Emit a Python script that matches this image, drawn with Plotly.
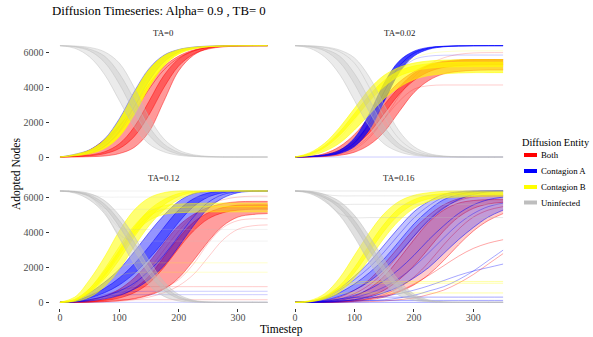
import plotly.graph_objects as go

# ---------------- data ----------------
T = [0, 25, 50, 75, 100, 125, 150, 175, 200, 225, 250, 275, 300, 325, 350]
X_TICKS = [0, 100, 200, 300]
Y_TICKS = [0, 2000, 4000, 6000]
ENTITIES = ["Both", "Contagion A", "Contagion B", "Uninfected"]
PANEL_TITLES = ["TA=0", "TA=0.02", "TA=0.12", "TA=0.16"]

# ---- TA = 0 ----
TA0_BOTH = [
    [0, 100, 400, 1000, 1800, 2900, 4200, 5200, 5800, 6150, 6320, 6380, 6400, 6400, 6400],
    [0, 0, 20, 60, 200, 550, 1450, 3200, 4950, 5850, 6250, 6370, 6400, 6400, 6400],
    [0, 40, 115, 300, 760, 1720, 3200, 4680, 5640, 6100, 6285, 6360, 6385, 6400, 6400],
    [0, 26, 70, 190, 490, 1170, 2420, 3980, 5230, 5910, 6210, 6330, 6375, 6390, 6400],
    [0, 50, 200, 600, 1400, 2600, 3900, 5000, 5700, 6100, 6300, 6380, 6400, 6400, 6400],
]
TA0_BOTH_X = []
TA0_A = [
    [0, 160, 420, 1030, 2200, 3750, 5080, 5850, 6180, 6320, 6375, 6392, 6400, 6400, 6400],
    [0, 90, 250, 620, 1450, 2850, 4350, 5450, 6020, 6250, 6345, 6378, 6394, 6400, 6400],
]
TA0_A_X = []
TA0_B = [
    [0, 150, 400, 990, 2130, 3680, 5030, 5820, 6170, 6310, 6370, 6390, 6400, 6400, 6400],
    [0, 70, 190, 490, 1170, 2420, 3980, 5230, 5910, 6210, 6330, 6370, 6390, 6400, 6400],
    [0, 100, 280, 700, 1600, 3040, 4550, 5570, 6070, 6270, 6350, 6380, 6395, 6400, 6400],
]
TA0_B_X = []
TA0_U = [
    [6400, 6250, 5750, 4750, 3250, 1750, 750, 300, 100, 30, 5, 0, 0, 0, 0],
    [6400, 6380, 6300, 6050, 5400, 4000, 2300, 1050, 400, 130, 40, 5, 0, 0, 0],
    [6400, 6330, 6100, 5450, 4200, 2600, 1250, 500, 170, 50, 10, 0, 0, 0, 0],
    [6400, 6360, 6200, 5800, 4800, 3300, 1750, 750, 270, 80, 20, 0, 0, 0, 0],
]
TA0_U_X = []

# ---- TA = 0.02 ----
TA002_BOTH = [
    [0, 40, 200, 600, 1300, 2300, 3400, 4300, 4900, 5300, 5500, 5580, 5600, 5600, 5600],
    [0, 5, 30, 100, 280, 700, 1450, 2600, 3700, 4400, 4780, 4920, 4980, 5000, 5000],
    [0, 15, 80, 250, 650, 1400, 2500, 3600, 4400, 4900, 5150, 5250, 5290, 5300, 5300],
    [0, 20, 120, 400, 950, 1850, 3000, 4000, 4800, 5250, 5450, 5550, 5590, 5600, 5600],
]
TA002_BOTH_X = [
    [0, 10, 60, 200, 550, 1200, 2200, 3200, 3900, 4100, 4140, 4140, 4140, 4140, 4140],
    [0, 10, 50, 170, 450, 1100, 2200, 3500, 4600, 5300, 5700, 5900, 5980, 6000, 6000],
]
TA002_A = [
    [0, 45, 130, 390, 1090, 2490, 4250, 5510, 6080, 6300, 6365, 6390, 6400, 6400, 6400],
    [0, 22, 67, 205, 600, 1560, 3200, 4840, 5800, 6195, 6333, 6380, 6395, 6400, 6400],
    [0, 32, 95, 285, 820, 2000, 3750, 5200, 5970, 6260, 6355, 6385, 6398, 6400, 6400],
]
TA002_A_X = [
    [0, 30, 90, 270, 780, 1900, 3500, 4900, 5600, 5800, 5850, 5860, 5860, 5860, 5860],
    [0, 0, 0, 0, 0, 0, 0, 0, 0, 0, 0, 0, 0, 0, 0],
]
TA002_B = [
    [0, 250, 800, 1700, 2800, 3900, 4700, 5150, 5400, 5520, 5570, 5590, 5600, 5600, 5600],
    [0, 80, 330, 800, 1550, 2450, 3350, 4000, 4450, 4680, 4780, 4830, 4850, 4850, 4850],
    [0, 150, 550, 1250, 2200, 3200, 4050, 4650, 4950, 5100, 5170, 5190, 5200, 5200, 5200],
    [0, 200, 650, 1450, 2500, 3550, 4400, 4950, 5230, 5360, 5420, 5440, 5450, 5450, 5450],
]
TA002_B_X = [
    [0, 120, 450, 1100, 2100, 3300, 4400, 5200, 5700, 5950, 6050, 6090, 6100, 6100, 6100],
]
TA002_U = [
    [6400, 6250, 5750, 4750, 3250, 1750, 750, 300, 100, 30, 5, 0, 0, 0, 0],
    [6400, 6390, 6330, 6150, 5700, 4600, 3000, 1500, 600, 200, 60, 15, 0, 0, 0],
    [6400, 6330, 6100, 5450, 4200, 2600, 1250, 500, 170, 50, 10, 0, 0, 0, 0],
    [6400, 6360, 6200, 5800, 4800, 3300, 1750, 750, 270, 80, 20, 0, 0, 0, 0],
    [6400, 6380, 6300, 6050, 5400, 4000, 2300, 1050, 400, 130, 40, 5, 0, 0, 0],
]
TA002_U_X = []

# ---- TA = 0.12 ----
TA012_BOTH = [
    [0, 20, 120, 350, 750, 1400, 2300, 3400, 4400, 5050, 5450, 5680, 5780, 5800, 5800],
    [0, 0, 10, 40, 100, 200, 400, 750, 1400, 2400, 3500, 4400, 4900, 5050, 5100],
    [0, 5, 30, 100, 250, 550, 1100, 2000, 3100, 4100, 4800, 5150, 5300, 5350, 5350],
    [0, 8, 45, 150, 380, 800, 1500, 2600, 3700, 4600, 5150, 5450, 5580, 5600, 5600],
]
TA012_BOTH_X = [
    [0, 0, 10, 40, 100, 220, 450, 800, 1300, 2200, 3400, 4300, 4700, 4800, 4800],
    [0, 0, 5, 20, 60, 150, 300, 550, 950, 1600, 2600, 3600, 4200, 4400, 4450],
    [0, 10, 50, 170, 450, 1000, 1900, 3000, 4100, 5000, 5600, 5900, 6050, 6100, 6100],
    [0, 20, 80, 140, 150, 150, 150, 150, 150, 150, 150, 150, 150, 150, 150],
    [0, 30, 150, 400, 700, 850, 900, 900, 900, 900, 900, 900, 900, 900, 900],
]
TA012_A = [
    [0, 100, 550, 1150, 1900, 2900, 4000, 5000, 5800, 6250, 6380, 6400, 6400, 6400, 6400],
    [0, 20, 80, 200, 400, 750, 1300, 2100, 3200, 4400, 5400, 6000, 6300, 6380, 6400],
    [0, 70, 380, 800, 1400, 2200, 3200, 4300, 5300, 5950, 6280, 6380, 6400, 6400, 6400],
    [0, 50, 250, 550, 1000, 1650, 2500, 3500, 4600, 5500, 6050, 6300, 6380, 6400, 6400],
    [0, 35, 150, 350, 650, 1100, 1800, 2700, 3800, 4900, 5750, 6200, 6350, 6400, 6400],
]
TA012_A_X = [
    [0, 40, 200, 450, 580, 620, 635, 635, 635, 635, 635, 635, 635, 635, 635],
    [0, 30, 150, 330, 420, 440, 440, 440, 440, 440, 440, 440, 440, 440, 440],
    [0, 0, 0, 0, 0, 0, 0, 0, 0, 0, 0, 0, 0, 0, 0],
]
TA012_B = [
    [0, 300, 1300, 2600, 4100, 5300, 6000, 6300, 6400, 6400, 6400, 6400, 6400, 6400, 6400],
    [0, 50, 300, 900, 1900, 3200, 4400, 5300, 5900, 6250, 6380, 6400, 6400, 6400, 6400],
    [0, 180, 800, 1800, 3000, 4300, 5300, 5900, 6250, 6380, 6400, 6400, 6400, 6400, 6400],
    [0, 110, 550, 1350, 2450, 3750, 4850, 5600, 6080, 6320, 6390, 6400, 6400, 6400, 6400],
]
TA012_B_PLATEAU = [
    [0, 150, 800, 1900, 3200, 4400, 5200, 5550, 5650, 5680, 5700, 5700, 5700, 5700, 5700],
    [0, 100, 600, 1500, 2700, 3900, 4700, 5050, 5150, 5180, 5200, 5200, 5200, 5200, 5200],
    [0, 120, 700, 1600, 2900, 4100, 4950, 5350, 5450, 5480, 5500, 5500, 5500, 5500, 5500],
]
TA012_B_X = [
    [0, 100, 600, 1400, 2000, 2250, 2270, 2270, 2270, 2270, 2270, 2270, 2270, 2270, 2270],
    [0, 80, 500, 1100, 1550, 1700, 1730, 1730, 1730, 1730, 1730, 1730, 1730, 1730, 1730],
]
TA012_U = [
    [6400, 6280, 5880, 5100, 3700, 2200, 1000, 350, 80, 10, 0, 0, 0, 0, 0],
    [6400, 6380, 6250, 5850, 5000, 3800, 2400, 1200, 450, 120, 20, 0, 0, 0, 0],
    [6400, 6340, 6080, 5450, 4350, 3000, 1650, 700, 220, 50, 5, 0, 0, 0, 0],
    [6400, 6360, 6170, 5650, 4700, 3450, 2000, 950, 330, 80, 10, 0, 0, 0, 0],
]
TA012_U_X = [
    [6400, 6400, 6400, 6400, 6400, 6400, 6400, 6400, 6400, 6400, 6400, 6400, 6400, 6400, 6400],
    [6400, 6380, 6200, 6050, 6050, 6050, 6050, 6050, 6050, 6050, 6050, 6050, 6050, 6050, 6050],
    [6400, 6330, 6100, 5400, 5350, 5350, 5350, 5350, 5350, 5350, 5350, 5350, 5350, 5350, 5350],
    [6400, 6330, 6100, 5300, 4300, 4190, 4190, 4190, 4190, 4190, 4190, 4190, 4190, 4190, 4190],
    [6400, 6330, 6050, 5200, 3900, 3520, 3520, 3520, 3520, 3520, 3520, 3520, 3520, 3520, 3520],
]

# ---- TA = 0.16 ----
TA016_BOTH = [
    [0, 20, 100, 300, 700, 1300, 2200, 3200, 4200, 5000, 5600, 5950, 6100, 6150, 6150],
    [0, 0, 0, 20, 60, 150, 300, 600, 1000, 1600, 2400, 3300, 4100, 4700, 5100],
    [0, 0, 30, 120, 350, 800, 1500, 2500, 3600, 4600, 5300, 5700, 5850, 5900, 5900],
    [0, 0, 10, 50, 150, 350, 700, 1300, 2100, 3100, 4100, 4900, 5400, 5650, 5750],
]
TA016_BOTH_X = [
    [0, 0, 0, 0, 20, 40, 80, 150, 250, 450, 700, 1100, 1600, 2200, 2800],
    [0, 0, 10, 40, 100, 200, 380, 650, 1050, 1550, 2100, 2650, 3100, 3400, 3600],
    [0, 0, 5, 30, 90, 220, 450, 850, 1450, 2300, 3300, 4200, 4900, 5300, 5500],
    [0, 10, 60, 200, 500, 1000, 1750, 2750, 3800, 4750, 5450, 5850, 6050, 6100, 6100],
]
TA016_A = [
    [0, 50, 300, 800, 1500, 2300, 3300, 4300, 5200, 5800, 6200, 6350, 6400, 6400, 6400],
    [0, 0, 20, 60, 150, 300, 550, 900, 1400, 2000, 2800, 3600, 4300, 4900, 5300],
    [0, 30, 200, 550, 1050, 1700, 2500, 3500, 4500, 5300, 5900, 6200, 6350, 6400, 6400],
    [0, 20, 120, 350, 700, 1200, 1900, 2800, 3800, 4700, 5400, 5900, 6200, 6350, 6400],
    [0, 10, 60, 180, 400, 750, 1250, 1900, 2700, 3600, 4400, 5100, 5600, 5900, 6050],
]
TA016_A_X = [
    [0, 0, 0, 20, 50, 100, 150, 250, 400, 650, 900, 1300, 1800, 2400, 3000],
    [0, 0, 20, 60, 130, 230, 350, 500, 700, 950, 1250, 1550, 1800, 2000, 2200],
    [0, 5, 40, 120, 280, 520, 880, 1380, 2050, 2850, 3700, 4500, 5100, 5500, 5700],
    [0, 40, 250, 700, 1300, 2000, 2900, 3900, 4850, 5550, 6050, 6300, 6380, 6400, 6400],
    [0, 20, 80, 200, 280, 300, 300, 300, 300, 300, 300, 300, 300, 300, 300],
    [0, 10, 50, 100, 110, 110, 110, 110, 110, 110, 110, 110, 110, 110, 110],
    [0, 0, 0, 0, 0, 0, 0, 0, 0, 0, 0, 0, 0, 0, 0],
]
TA016_B = [
    [0, 100, 500, 1400, 2700, 4000, 5100, 5800, 6150, 6300, 6380, 6400, 6400, 6400, 6400],
    [0, 30, 200, 600, 1400, 2500, 3700, 4700, 5400, 5800, 6000, 6050, 6080, 6100, 6100],
    [0, 60, 330, 950, 2000, 3300, 4500, 5400, 5900, 6150, 6250, 6290, 6300, 6300, 6300],
    [0, 45, 260, 780, 1700, 2900, 4100, 5050, 5650, 5950, 6100, 6150, 6170, 6180, 6180],
]
TA016_B_X = [
    [0, 30, 200, 500, 540, 540, 540, 540, 540, 540, 540, 540, 540, 540, 540],
    [0, 50, 300, 800, 1050, 1100, 1100, 1100, 1100, 1100, 1100, 1100, 1100, 1100, 1100],
    [0, 60, 350, 900, 1150, 1200, 1200, 1200, 1200, 1200, 1200, 1200, 1200, 1200, 1200],
]
TA016_U = [
    [6400, 6250, 5800, 5000, 3750, 2300, 1100, 400, 120, 25, 0, 0, 0, 0, 0],
    [6400, 6380, 6200, 5800, 5000, 3800, 2450, 1250, 480, 140, 30, 0, 0, 0, 0],
    [6400, 6320, 6000, 5400, 4350, 3000, 1700, 750, 250, 60, 5, 0, 0, 0, 0],
    [6400, 6350, 6100, 5600, 4700, 3400, 2050, 1000, 360, 90, 15, 0, 0, 0, 0],
]
TA016_U_X = [
    [6400, 6400, 6400, 6400, 6400, 6400, 6400, 6400, 6400, 6400, 6400, 6400, 6400, 6400, 6400],
    [6400, 6380, 6200, 6117, 6117, 6117, 6117, 6117, 6117, 6117, 6117, 6117, 6117, 6117, 6117],
    [6400, 6330, 6000, 5650, 5635, 5635, 5635, 5635, 5635, 5635, 5635, 5635, 5635, 5635, 5635],
    [6400, 6300, 5900, 5100, 4870, 4870, 4870, 4870, 4870, 4870, 4870, 4870, 4870, 4870, 4870],
]

# ---------------- styling ----------------
W, H = 593, 337
FONT = "Liberation Serif"
COLORS = {"Both": (255, 0, 0), "Contagion A": (0, 0, 255),
          "Contagion B": (255, 255, 0), "Uninfected": (190, 190, 190)}


def rgba(c, a):
    return "rgba(%d,%d,%d,%.3f)" % (c[0], c[1], c[2], a)


# pixel boxes of the four panels (x0, x1, y0_top, y1_bottom)
BOXES = [(49.6, 278.0, 40.1, 162.6), (284.6, 513.5, 40.1, 162.6),
         (49.6, 278.0, 185.4, 307.9), (284.6, 513.5, 185.4, 307.9)]

# (entity, curves, extra faint curves, fill opacity, line opacity)
PANEL_DATA = [
    [("Both", TA0_BOTH, TA0_BOTH_X, 0.40, 0.45), ("Contagion A", TA0_A, TA0_A_X, 0.45, 0.35),
     ("Contagion B", TA0_B, TA0_B_X, 0.88, 0.6), ("Uninfected", TA0_U, TA0_U_X, 0.3, 0.45)],
    [("Both", TA002_BOTH, TA002_BOTH_X, 0.42, 0.45), ("Contagion A", TA002_A, TA002_A_X, 0.75, 0.6),
     ("Contagion B", TA002_B, TA002_B_X, 0.62, 0.55), ("Uninfected", TA002_U, TA002_U_X, 0.3, 0.45)],
    [("Both", TA012_BOTH, TA012_BOTH_X, 0.38, 0.45), ("Contagion A", TA012_A, TA012_A_X, 0.42, 0.5),
     ("Contagion B", TA012_B, TA012_B_X, 0.55, 0.55), ("Contagion B", TA012_B_PLATEAU, [], 0.45, 0.5),
     ("Uninfected", TA012_U, TA012_U_X, 0.42, 0.5)],
    [("Both", TA016_BOTH, TA016_BOTH_X, 0.2, 0.45), ("Contagion A", TA016_A, TA016_A_X, 0.24, 0.5),
     ("Contagion B", TA016_B, TA016_B_X, 0.55, 0.55), ("Uninfected", TA016_U, TA016_U_X, 0.48, 0.5)],
]

fig = go.Figure()

for i, groups in enumerate(PANEL_DATA):
    xa = "x" if i == 0 else "x%d" % (i + 1)
    ya = "y" if i == 0 else "y%d" % (i + 1)
    for ent, curves, extras, fa, la in groups:
        c = COLORS[ent]
        for k, yv in enumerate(curves):
            tr = dict(x=T, y=yv, mode="lines", xaxis=xa, yaxis=ya,
                      line=dict(color=rgba(c, la), width=1, shape="spline"),
                      showlegend=False, hoverinfo="skip")
            if k in (1, 3):
                tr["fill"] = "tonexty"
                tr["fillcolor"] = rgba(c, fa)
            fig.add_trace(go.Scatter(**tr))
        for yv in extras:
            fig.add_trace(go.Scatter(
                x=T, y=yv, mode="lines", xaxis=xa, yaxis=ya,
                line=dict(color=rgba(c, 0.2 if i != 3 else 0.35), width=1, shape="spline"),
                showlegend=False, hoverinfo="skip"))

tickfont = dict(family=FONT, size=10, color="#4D4D4D")
layout = dict(width=W, height=H, margin=dict(l=0, r=0, t=0, b=0),
              font=dict(family=FONT),
              paper_bgcolor="white", plot_bgcolor="white", showlegend=False)
for i, (x0, x1, y0, y1) in enumerate(BOXES):
    xk = "xaxis" if i == 0 else "xaxis%d" % (i + 1)
    yk = "yaxis" if i == 0 else "yaxis%d" % (i + 1)
    ya = "y" if i == 0 else "y%d" % (i + 1)
    xa = "x" if i == 0 else "x%d" % (i + 1)
    bottom = i >= 2
    left = i % 2 == 0
    layout[xk] = dict(domain=[x0 / W, x1 / W], range=[-17.5, 367.5], anchor=ya,
                      showgrid=False, zeroline=False, showline=False,
                      tickvals=X_TICKS, ticks="outside" if bottom else "",
                      ticklen=3, tickcolor="#333333", tickwidth=1,
                      ticklabelstandoff=-3,
                      showticklabels=bottom, tickfont=tickfont, fixedrange=True)
    layout[yk] = dict(domain=[1 - y1 / H, 1 - y0 / H], range=[-320, 6720], anchor=xa,
                      showgrid=False, zeroline=False, showline=False,
                      tickvals=Y_TICKS, ticks="outside" if left else "",
                      ticklen=3, tickcolor="#333333", tickwidth=1,
                      showticklabels=left, tickfont=tickfont, fixedrange=True)

annotations = []
shapes = []
annotations.append(dict(text="Diffusion Timeseries: Alpha= 0.9 , TB= 0", xref="paper", yref="paper",
                        x=50 / W, y=1 - 11 / H, xanchor="left", yanchor="middle", showarrow=False,
                        font=dict(family=FONT, size=12.8, color="black")))
for i, (x0, x1, y0, y1) in enumerate(BOXES):
    annotations.append(dict(text=PANEL_TITLES[i], xref="paper", yref="paper",
                            x=(x0 + x1) / 2 / W, y=1 - (y0 - 7) / H, xanchor="center",
                            yanchor="middle", showarrow=False,
                            font=dict(family=FONT, size=8.8, color="#1A1A1A")))
annotations.append(dict(text="Adopted Nodes", xref="paper", yref="paper", x=17 / W,
                        y=1 - 174 / H, textangle=-90, xanchor="center", yanchor="middle",
                        showarrow=False, font=dict(family=FONT, size=11.5, color="black")))
annotations.append(dict(text="Timestep", xref="paper", yref="paper", x=281.5 / W,
                        y=1 - 329 / H, xanchor="center", yanchor="middle",
                        showarrow=False, font=dict(family=FONT, size=11.5, color="black")))
# legend
annotations.append(dict(text="Diffusion Entity", xref="paper", yref="paper", x=520 / W,
                        y=1 - 142 / H, xanchor="left", yanchor="middle", showarrow=False,
                        font=dict(family=FONT, size=10.3, color="black")))
LEG_Y = [155, 171, 187, 202.5]
for ent, ly in zip(ENTITIES, LEG_Y):
    shapes.append(dict(type="line", xref="paper", yref="paper", x0=524 / W, x1=537 / W,
                       y0=1 - ly / H, y1=1 - ly / H,
                       line=dict(color=rgba(COLORS[ent], 1.0), width=4)))
    annotations.append(dict(text=ent, xref="paper", yref="paper", x=539 / W, y=1 - ly / H,
                            xanchor="left", yanchor="middle", showarrow=False,
                            font=dict(family=FONT, size=8.8, color="black")))

layout["annotations"] = annotations
layout["shapes"] = shapes
fig.update_layout(**layout)

fig.write_html("out.html")
